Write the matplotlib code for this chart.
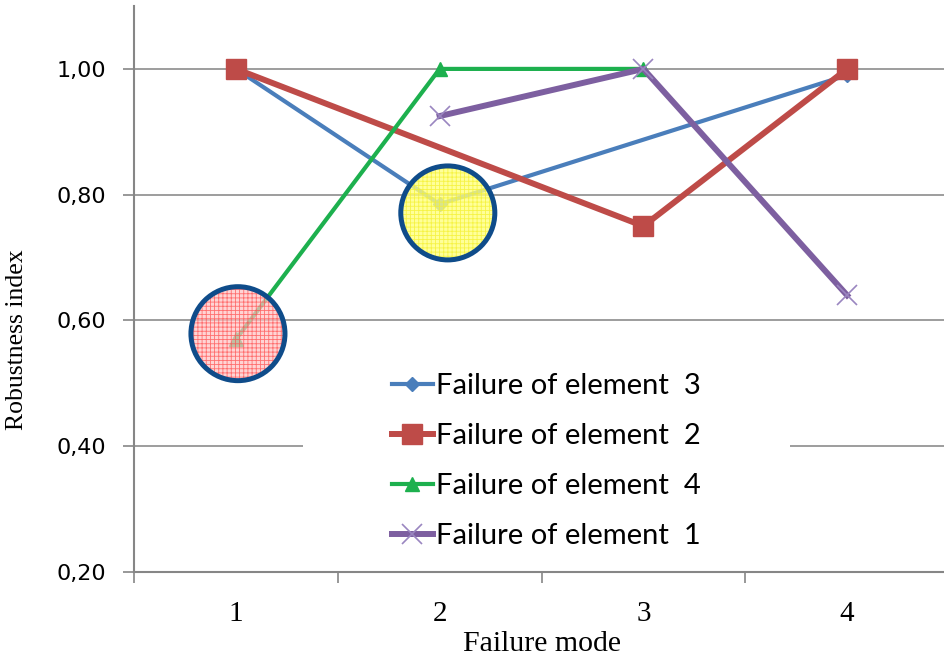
import numpy as np
import matplotlib.pyplot as plt
from matplotlib.patches import Ellipse, Rectangle

# Robustness index for each failure mode, one series per failed element (None = no value)
modos = [1, 2, 3, 4]
elem3 = [1.00, 0.785, None, 0.99]
elem2 = [1.00, None, 0.75, 1.00]
elem4 = [0.57, 1.00, 1.00, None]
elem1 = [None, 0.925, 1.00, 0.64]
rotulos = ['Failure of element  3', 'Failure of element  2',
           'Failure of element  4', 'Failure of element  1']

plt.rcParams['hatch.linewidth'] = 0.6

fig = plt.figure(figsize=(9.44, 6.61), dpi=100)
ax = fig.add_axes([0.142, 0.1346, 0.8633, 0.8563])

def serie(vals):
    xs = [m for m, v in zip(modos, vals) if v is not None]
    ys = [v for v in vals if v is not None]
    return xs, ys

estilos = [
    (elem3, dict(color='#4a7ebb', lw=3.0, marker='D', ms=7)),
    (elem2, dict(color='#be4b48', lw=4.3, marker='s', ms=14)),
    (elem4, dict(color='#1db04e', lw=3.0, marker='^', ms=10)),
    (elem1, dict(color='#7d5fa0', lw=4.3, marker='x', ms=15, mew=1.2,
                 mec='#9a86c0')),
]
for (vals, kw), lab in zip(estilos, rotulos):
    xs, ys = serie(vals)
    ax.plot(xs, ys, label=lab, zorder=3, **kw)

# circulos de destaque
ax.add_patch(Ellipse((1.01, 0.579), 0.4615, 0.1494, facecolor='#ffc4c4',
                     edgecolor='#ff4848', hatch='++++', lw=0, alpha=0.72, zorder=5))
ax.add_patch(Ellipse((1.01, 0.579), 0.4615, 0.1494, facecolor='none',
                     edgecolor='#0f4c8a', lw=3.6, zorder=6))
ax.add_patch(Ellipse((2.04, 0.771), 0.4615, 0.1494, facecolor='#ffff80',
                     edgecolor='#f4f030', hatch='++++', lw=0, alpha=0.8, zorder=5))
ax.add_patch(Ellipse((2.04, 0.771), 0.4615, 0.1494, facecolor='none',
                     edgecolor='#0f4c8a', lw=3.6, zorder=6))

# fundo branco da legenda
ax.add_patch(Rectangle((1.33, 0.23), 2.39, 0.30, facecolor='white',
                       edgecolor='none', zorder=1.5))

ax.set_xlim(0.5, 4.5)
ax.set_ylim(0.2, 1.1)
ax.set_yticks([0.2, 0.4, 0.6, 0.8, 1.0])
ax.set_yticklabels([f'{v:.2f}'.replace('.', ',') for v in [0.2, 0.4, 0.6, 0.8, 1.0]],
                   fontsize=16, family='DejaVu Sans')
ax.set_xticks(modos)
ax.set_xticklabels([str(m) for m in modos], fontsize=21, family='Liberation Serif')
ax.set_xticks([0.5, 1.5, 2.5, 3.5, 4.5], minor=True)
ax.tick_params(axis='x', which='major', length=0, pad=21)
ax.tick_params(axis='x', which='minor', length=8, width=1.2, color='#868686')
ax.tick_params(axis='y', length=8, width=1.2, color='#868686', pad=12)

ax.yaxis.grid(True, color='#8c8c8c', lw=1.2)
ax.set_axisbelow(True)
for s in ['top', 'right']:
    ax.spines[s].set_visible(False)
for s in ['left', 'bottom']:
    ax.spines[s].set_color('#868686')
    ax.spines[s].set_linewidth(1.5)

ax.set_xlabel('Failure mode', fontsize=21.5, family='Liberation Serif')
ax.xaxis.set_label_coords(0.5, -0.104)
ax.set_ylabel('Robustness index', fontsize=18.5, family='Liberation Serif')
ax.yaxis.set_label_coords(-0.13, 0.41)

ax.legend(loc='upper left', bbox_to_anchor=(0.3166, 0.352), frameon=False,
          prop={'family': 'Lato', 'size': 21}, borderpad=0, borderaxespad=0,
          handlelength=1.4, handletextpad=0.1, labelspacing=0.83, numpoints=1)

plt.savefig('out.png', dpi=100)
